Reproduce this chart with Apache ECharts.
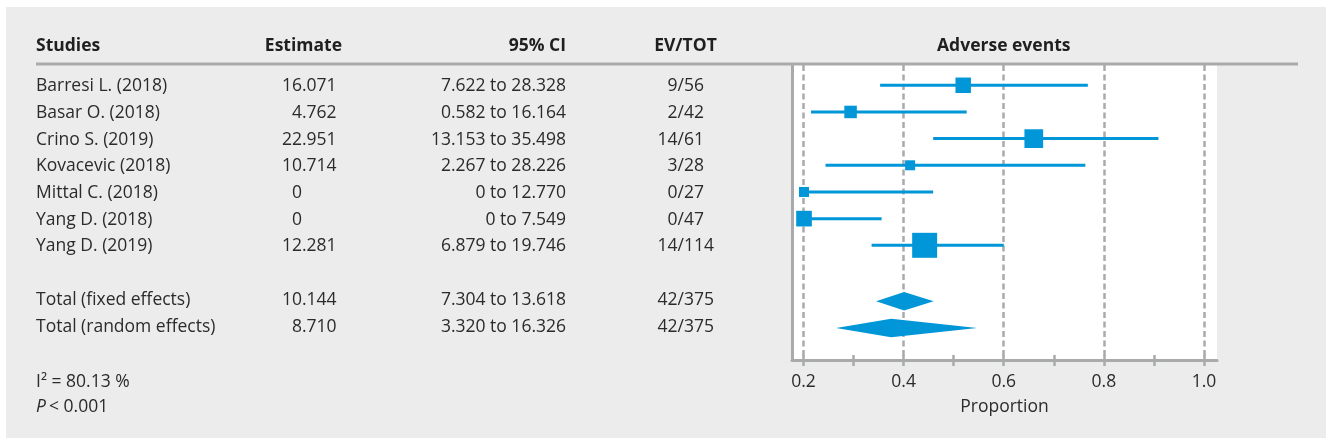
<!DOCTYPE html>
<html lang="en">
<head>
<meta charset="utf-8">
<title>Adverse events</title>
<script src="https://cdn.jsdelivr.net/npm/echarts@6/dist/echarts.min.js"></script>
<style>
  html, body { margin: 0; padding: 0; background: #fff; }
  #main { width: 1332px; height: 445px; }
</style>
</head>
<body>
<div id="main"></div>
<script type="text/javascript">
// table columns
var studies = ['Barresi L. (2018)', 'Basar O. (2018)', 'Crino S. (2019)', 'Kovacevic (2018)',
               'Mittal C. (2018)', 'Yang D. (2018)', 'Yang D. (2019)'];
var estimates = [16.071, 4.762, 22.951, 10.714, 0, 0, 12.281];
var ciLow = [7.622, 0.582, 13.153, 2.267, 0, 0, 6.879];
var ciHigh = [28.328, 16.164, 35.498, 28.226, 12.770, 7.549, 19.746];
var events = [9, 2, 14, 3, 0, 0, 14];
var totals = [56, 42, 61, 28, 27, 47, 114];

var pooledNames = ['Total (fixed effects)', 'Total (random effects)'];
var pooledEstimates = [10.144, 8.710];
var pooledLow = [7.304, 3.320];
var pooledHigh = [13.618, 16.326];
var pooledEvents = [42, 42];
var pooledTotals = [375, 375];

// what the plot shows on the proportion axis
var plotEst = [0.519, 0.294, 0.660, 0.413, 0.201, 0.201, 0.442];
var plotLow = [0.353, 0.215, 0.459, 0.244, 0.201, 0.200, 0.336];
var plotHigh = [0.768, 0.526, 0.909, 0.763, 0.459, 0.356, 0.600];
var weights = [13.2, 8.6, 19.3, 5.5, 5.5, 13.5, 34.4];
var pooledPlotEst = [0.401, 0.375];
var pooledPlotLow = [0.345, 0.265];
var pooledPlotHigh = [0.460, 0.547];

var axisLabels = [0.2, 0.4, 0.6, 0.8, 1.0];
var axisTicks = [0.2, 0.3, 0.4, 0.5, 0.6, 0.7, 0.8, 0.9, 1.0];

var FONT = '"Open Sans"';
var TXT = '#2b2b2b';
var GREY = '#a9aaac';
var BLUE = '#0096d8';
var XMIN = 0.177, XMAX = 1.026;

var chart = echarts.init(document.getElementById('main'));

function fmt(v) { return v === 0 ? '0' : v.toFixed(3); }
function pooledRow(j) { return 8.1 + j; }   // one empty row between studies and totals

var ciData = [], squareData = [], diamondData = [];
for (var i = 0; i < studies.length; i++) {
    ciData.push([plotLow[i], plotHigh[i], i]);
    squareData.push([plotEst[i], i, weights[i]]);
}
for (var j = 0; j < pooledNames.length; j++) {
    diamondData.push([pooledPlotLow[j], pooledPlotEst[j], pooledPlotHigh[j], pooledRow(j)]);
}

var option = {
    backgroundColor: '#fff',
    animation: false,
    grid: { left: 792, right: 115, top: 65, bottom: 85, show: true, backgroundColor: '#fff', borderWidth: 0 },
    xAxis: [{
        type: 'value', min: XMIN, max: XMAX, position: 'bottom',
        axisLine: { show: true, onZero: false, lineStyle: { color: GREY, width: 3 } },
        axisTick: { show: true, customValues: axisTicks, length: 6, lineStyle: { color: GREY, width: 2.5 } },
        axisLabel: { customValues: axisLabels, formatter: function (v) { return v.toFixed(1); },
                     color: TXT, fontSize: 17.5, fontFamily: FONT, margin: 13 },
        splitLine: { show: false },
        name: 'Proportion', nameLocation: 'middle', nameGap: 38,
        nameTextStyle: { color: TXT, fontSize: 17.5, fontFamily: FONT }
    }, {
        type: 'value', min: XMIN, max: XMAX, position: 'bottom',
        axisLine: { show: false, onZero: false },
        axisTick: { show: true, inside: true, customValues: axisTicks, length: 5, lineStyle: { color: GREY, width: 2.5 } },
        axisLabel: { show: false },
        splitLine: { show: false }
    }],
    yAxis: {
        type: 'value', inverse: true, min: -0.76, max: 10.30,
        axisLine: { show: true, onZero: false, lineStyle: { color: GREY, width: 3 } },
        axisTick: { show: false }, axisLabel: { show: false }, splitLine: { show: false }
    },
    series: [{
        // dashed grid lines, kept under the marks
        type: 'line', data: [], z: 1, silent: true,
        markLine: {
            z: 1, silent: true, symbol: ['none', 'none'], label: { show: false },
            lineStyle: { color: GREY, width: 2.5, type: [6, 3.5] },
            emphasis: { disabled: true },
            data: axisLabels.map(function (v) { return { xAxis: v }; })
        }
    }, {
        type: 'custom', z: 10, data: ciData,
        encode: { x: [0, 1], y: 2 },
        renderItem: function (params, api) {
            var a = api.coord([api.value(0), api.value(2)]);
            var b = api.coord([api.value(1), api.value(2)]);
            return { type: 'line', shape: { x1: a[0], y1: a[1], x2: b[0], y2: b[1] },
                     style: { stroke: BLUE, lineWidth: 3 } };
        }
    }, {
        type: 'scatter', z: 11, data: squareData, symbol: 'rect',
        symbolSize: function (v) { return Math.sqrt(v[2]) * 4.26; },
        itemStyle: { color: BLUE, opacity: 1 }
    }, {
        type: 'custom', z: 10, data: diamondData,
        encode: { x: [0, 1, 2], y: 3 },
        renderItem: function (params, api) {
            var row = api.value(3);
            var l = api.coord([api.value(0), row]);
            var m = api.coord([api.value(1), row]);
            var r = api.coord([api.value(2), row]);
            var h = 9.3;
            return { type: 'polygon', shape: { points: [[l[0], l[1]], [m[0], m[1] - h], [r[0], r[1]], [m[0], m[1] + h]] },
                     style: { fill: BLUE } };
        }
    }]
};
chart.setOption(option);

// ---- the table on the left, built as graphic text ----
var X_NAME = 36, X_DEC = 302, X_CI = 566, X_SLASH = 677.5;
var reg = '17.5px ' + FONT, bold = 'bold 17.5px ' + FONT;

function txt(x, y, s, align, font, extra) {
    var st = { text: s, font: font || reg, fill: TXT, textAlign: align || 'left', textVerticalAlign: 'middle' };
    if (extra) { for (var k in extra) st[k] = extra[k]; }
    return { type: 'text', x: x, y: y, z: 100, silent: true, style: st };
}

function tableRow(y, name, est, lo, hi, ev, tot) {
    var out = [txt(X_NAME, y, name)];
    var parts = fmt(est).split('.');
    out.push(txt(X_DEC, y, parts[0], 'right'));
    if (parts.length > 1) out.push(txt(X_DEC, y, '.' + parts[1], 'left'));
    out.push(txt(X_CI, y, fmt(lo) + ' to ' + fmt(hi), 'right'));
    out.push(txt(X_SLASH, y, String(ev), 'right'));
    out.push(txt(X_SLASH, y, '/' + tot, 'left'));
    return out;
}

var els = [
    { type: 'rect', z: -10, silent: true, shape: { x: 6, y: 7, width: 1320, height: 431 }, style: { fill: '#ebeceb' } },
    { type: 'line', z: 90, silent: true, shape: { x1: 36, y1: 64, x2: 1298, y2: 64 }, style: { stroke: GREY, lineWidth: 3 } },
    txt(X_NAME, 46, 'Studies', 'left', bold, { fill: '#1f1f1f' }),
    txt(342, 46, 'Estimate', 'right', bold, { fill: '#1f1f1f' }),
    txt(X_CI, 46, '95% CI', 'right', bold, { fill: '#1f1f1f' }),
    txt(685.5, 46, 'EV/TOT', 'center', bold, { fill: '#1f1f1f' }),
    txt(chart.convertToPixel({ xAxisIndex: 0 }, 0.6), 46, 'Adverse events', 'center', bold, { fill: '#1f1f1f' })
];
for (var i = 0; i < studies.length; i++) {
    var y = chart.convertToPixel({ yAxisIndex: 0 }, i) + 1;
    els = els.concat(tableRow(y, studies[i], estimates[i], ciLow[i], ciHigh[i], events[i], totals[i]));
}
for (var j = 0; j < pooledNames.length; j++) {
    var y2 = chart.convertToPixel({ yAxisIndex: 0 }, pooledRow(j)) - 1;
    els = els.concat(tableRow(y2, pooledNames[j], pooledEstimates[j], pooledLow[j], pooledHigh[j], pooledEvents[j], pooledTotals[j]));
}
els.push(txt(X_NAME, 382, 'I\u00b2 = 80.13 %'));
els.push(txt(X_NAME, 407, 'P', 'left', 'italic 17.5px ' + FONT));
els.push(txt(X_NAME + 13, 407, '< 0.001'));

chart.setOption({ graphic: { elements: els } });
</script>
</body>
</html>
